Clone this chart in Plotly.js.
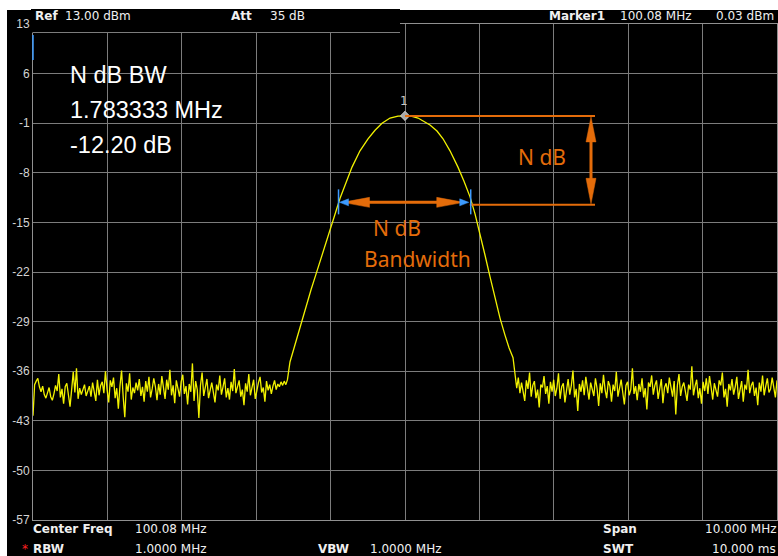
<!DOCTYPE html>
<html>
<head>
<meta charset="utf-8">
<script src="https://cdn.plot.ly/plotly-3.0.1.min.js"></script>
<style>
html,body{margin:0;padding:0;background:#ffffff;width:778px;height:556px;overflow:hidden;}
#bg{position:absolute;left:7px;top:10px;width:771px;height:546px;background:#000000;}
#chart{position:absolute;left:0;top:0;width:778px;height:556px;}
</style>
</head>
<body>
<div id="bg"></div>
<div id="chart"></div>
<script>
// ---------------- data ----------------
const centerFreq = 100.08;   // MHz
const spanMHz = 10;
const refLevel = 13;
const yTickVals = [-57, -50, -43, -36, -29, -22, -15, -8, -1, 6, 13];

const noiseLeftStart = 95.08, noiseLeftStop = 98.50;
const noiseLeft = [-42.3,-37.9,-37.4,-37.0,-38.2,-38.9,-38.1,-39.3,-39.8,-39.0,-38.3,-39.6,-40.1,-39.2,-38.0,-38.8,-36.4,-39.7,-38.5,-40.6,-38.2,-37.7,-39.4,-41.0,-38.6,-36.1,-39.0,-35.6,-39.9,-38.4,-39.3,-38.7,-37.9,-39.5,-38.8,-38.1,-39.6,-37.6,-38.9,-40.2,-37.2,-39.4,-38.0,-37.5,-39.1,-36.0,-38.6,-40.4,-37.3,-38.2,-36.9,-39.8,-38.4,-41.3,-38.1,-35.9,-39.6,-42.5,-37.7,-38.9,-36.3,-40.0,-38.3,-39.1,-37.6,-38.7,-37.1,-39.5,-38.2,-40.3,-37.4,-38.9,-36.8,-39.7,-38.5,-37.0,-38.2,-40.1,-37.8,-39.3,-36.7,-38.4,-39.9,-37.2,-38.6,-35.8,-39.4,-38.0,-40.5,-37.3,-38.8,-39.6,-37.5,-36.5,-39.2,-38.1,-40.7,-37.8,-38.9,-34.9,-40.2,-37.4,-38.6,-42.6,-38.0,-36.2,-39.5,-38.3,-37.1,-39.8,-38.5,-37.6,-39.0,-40.4,-37.9,-38.7,-36.6,-39.3,-38.2,-37.0,-39.7,-38.4,-40.0,-37.5,-38.8,-35.7,-39.1,-38.0,-37.3,-39.6,-38.6,-40.8,-37.7,-38.9,-36.4,-39.4,-38.1,-37.2,-39.9,-38.5,-37.6,-36.8,-39.0,-38.3,-40.3,-37.4,-38.7,-37.9,-39.2,-38.1,-37.3,-38.6,-37.8,-38.2,-37.5,-38.0,-37.4,-37.9,-37.2];

const signalFreq  = [98.534,98.588,98.642,98.696,98.749,98.817,98.884,98.951,99.018,99.085,99.153,99.207,99.274,99.368,99.475,99.583,99.677,99.771,99.879,99.986,100.08,100.174,100.255,100.335,100.416,100.51,100.591,100.685,100.792,100.873,100.954,101.021,101.088,101.155,101.223,101.29,101.357,101.424,101.478,101.532];
const signalLevel = [-34.7,-32.7,-30.75,-28.8,-26.7,-24.5,-22.3,-20.0,-17.8,-15.5,-13.4,-11.6,-9.7,-7.2,-4.9,-3.2,-2.0,-1.0,-0.27,0.0,0.03,-0.05,-0.27,-0.7,-1.25,-2.1,-3.2,-4.9,-7.2,-9.2,-11.4,-13.8,-16.6,-19.6,-22.7,-25.7,-28.5,-30.9,-32.7,-34.1];

const noiseRightStart = 101.56, noiseRightStop = 105.08;
const noiseRight = [-37.0,-38.4,-36.9,-39.1,-37.6,-38.8,-40.2,-37.3,-38.5,-36.2,-39.6,-38.0,-37.4,-39.8,-38.6,-41.1,-37.9,-38.3,-36.7,-39.2,-38.1,-40.6,-37.5,-38.9,-37.2,-39.5,-38.4,-36.3,-39.9,-38.2,-37.7,-40.4,-38.6,-37.1,-39.3,-38.0,-35.9,-39.7,-38.5,-41.6,-37.8,-38.9,-37.3,-39.4,-36.8,-38.2,-40.0,-37.6,-38.7,-39.5,-37.0,-38.4,-40.9,-37.7,-39.1,-36.5,-38.6,-39.8,-37.4,-38.1,-40.3,-37.9,-38.8,-36.1,-39.6,-38.3,-37.2,-39.0,-40.7,-38.0,-37.5,-39.4,-38.6,-35.6,-39.2,-38.1,-40.1,-37.8,-38.9,-37.0,-39.7,-38.4,-41.4,-37.6,-38.2,-36.6,-39.3,-38.0,-37.3,-39.9,-38.7,-37.1,-40.5,-38.3,-37.7,-39.1,-36.9,-38.5,-39.6,-37.4,-42.1,-38.0,-36.4,-39.5,-38.2,-37.6,-39.0,-40.2,-37.9,-38.6,-35.3,-39.4,-38.1,-37.2,-39.8,-38.4,-40.6,-37.5,-38.8,-37.0,-39.2,-36.7,-38.3,-40.0,-37.7,-38.9,-39.6,-37.3,-38.0,-36.2,-39.7,-38.5,-41.0,-37.8,-38.7,-37.1,-39.3,-38.2,-36.8,-39.9,-38.4,-37.4,-40.3,-37.9,-38.6,-35.8,-39.1,-38.0,-37.5,-39.5,-38.3,-40.8,-37.6,-38.9,-36.6,-39.4,-38.1,-37.0,-39.0,-38.5,-36.9,-38.2,-39.7,-37.3];

const markerFreq = 100.08, markerLevel = 0.03;
const ndbLeftFreq = 99.20, ndbRightFreq = 100.95, ndbLevel = -12.17;

// ---------------- build ----------------
function sweep(a, b, n){ const out=[]; for(let i=0;i<n;i++) out.push(a + (b-a)*i/(n-1)); return out; }
const xs = sweep(noiseLeftStart, noiseLeftStop, noiseLeft.length)
  .concat(signalFreq)
  .concat(sweep(noiseRightStart, noiseRightStop, noiseRight.length));
const ys = noiseLeft.concat(signalLevel).concat(noiseRight);

const xMin = centerFreq - spanMHz/2, xMax = centerFreq + spanMHz/2;
const yMin = -57, yMax = refLevel;

// pixel geometry helpers (plot area)
const PL = 33, PR = 777, PT = 24, PB = 520;
const px = x => (x - PL) / (PR - PL);          // pixel x -> paper
const py = y => (PB - y) / (PB - PT);          // pixel y -> paper
const fx = f => PL + (f - xMin) / (xMax - xMin) * (PR - PL);   // data -> pixel
const vy = v => PT + (yMax - v) / (yMax - yMin) * (PB - PT);

const orange = '#e46c0a';
const blue = '#3d9bff';
const grid = '#7c7c7c';

const shapes = [];
function pline(x0,y0,x1,y1,color,w){ shapes.push({type:'line',xref:'paper',yref:'paper',x0:px(x0),y0:py(y0),x1:px(x1),y1:py(y1),line:{color:color,width:w},layer:'above'}); }
function ptri(pts,color){ let d=''; pts.forEach((p,i)=>{ d += (i?' L ':'M ') + px(p[0]) + ',' + py(p[1]); }); d+=' Z'; shapes.push({type:'path',xref:'paper',yref:'paper',path:d,fillcolor:color,line:{color:color,width:0.5},layer:'above'}); }

// header cover on left half
shapes.push({type:'rect',xref:'paper',yref:'paper',x0:px(31),x1:px(400),y0:py(32.5),y1:py(9),fillcolor:'#000000',line:{width:0},layer:'above'});
pline(33,32.5,400,32.5,grid,1);
pline(33,35,33,60,blue,1.5);

// N dB marker geometry
const xPk = fx(markerFreq), yPk = vy(markerLevel);
const xL = fx(ndbLeftFreq), xR = fx(ndbRightFreq), yN = vy(ndbLevel);
// horizontal reference lines
pline(xPk, yPk, 595, yPk, orange, 2);
pline(xR, yN + 2.5, 595, yN + 2.5, orange, 2);
// vertical double arrow
pline(591, yPk + 20, 591, yN - 20, orange, 3);
ptri([[591, yPk + 1],[586, yPk + 26],[596, yPk + 26]], orange);
ptri([[591, yN + 1.5],[586, yN - 24],[596, yN - 24]], orange);
// horizontal double arrow
pline(xL + 25, yN, xR - 25, yN, orange, 3);
ptri([[xL + 3, yN],[xL + 30, yN - 5],[xL + 30, yN + 5]], orange);
ptri([[xR - 6, yN],[xR - 33, yN - 5],[xR - 33, yN + 5]], orange);
// blue N dB markers
pline(xL - 1, yN - 13, xL - 1, yN + 12, blue, 1.5);
ptri([[xL, yN],[xL + 9, yN - 3.5],[xL + 9, yN + 3.5]], blue);
pline(xR + 1, yN - 13, xR + 1, yN + 12, blue, 1.5);
ptri([[xR - 1, yN],[xR - 10, yN - 3.5],[xR - 10, yN + 3.5]], blue);

const annotations = [];
function txt(x, y, text, size, color, anchor, family){
  annotations.push({xref:'paper',yref:'paper',x:px(x),y:py(y),text:text,showarrow:false,
    xanchor:anchor||'left',yanchor:'middle',borderpad:0,borderwidth:0,
    font:{family:family||'DejaVu Sans, sans-serif',size:size,color:color}});
}
const hw = '#f0f0f0';
// header
txt(35, 16.5, '<b>Ref</b>', 12, hw);
txt(65, 16.5, '13.00 dBm', 12, hw);
txt(231, 16.5, '<b>Att</b>', 12, hw);
txt(270, 16.5, '35 dB', 12, hw);
txt(549, 16.5, '<b>Marker1</b>', 12, hw);
txt(620, 16.5, '100.08 MHz', 12, hw);
txt(774, 16.5, '0.03 dBm', 12, hw, 'right');
// footer
txt(33, 529, '<b>Center Freq</b>', 12, hw);
txt(135, 529, '100.08 MHz', 12, hw);
txt(22, 549, '*', 12, '#ff2020');
txt(33, 549, '<b>RBW</b>', 12, hw);
txt(135, 549, '1.0000 MHz', 12, hw);
txt(318, 549, '<b>VBW</b>', 12, hw);
txt(370, 549, '1.0000 MHz', 12, hw);
txt(603, 529, '<b>Span</b>', 12, hw);
txt(776, 529, '10.000 MHz', 12, hw, 'right');
txt(603, 549, '<b>SWT</b>', 12, hw);
txt(776, 549, '10.000 ms', 12, hw, 'right');
// measurement readout
txt(70, 74.5, 'N dB BW', 23.5, '#ffffff', 'left', 'Liberation Sans, Arial, sans-serif');
txt(70, 109.5, '1.783333 MHz', 23.5, '#ffffff', 'left', 'Liberation Sans, Arial, sans-serif');
txt(70, 144.5, '-12.20 dB', 23.5, '#ffffff', 'left', 'Liberation Sans, Arial, sans-serif');
// orange labels
txt(542, 157, 'N dB', 21, orange, 'center', 'Noto Sans, sans-serif');
txt(397, 228, 'N dB', 21, orange, 'center', 'Noto Sans, sans-serif');
txt(417, 259, 'Bandwidth', 21, orange, 'center', 'Noto Sans, sans-serif');
// marker label
annotations.push({x:markerFreq, y:markerLevel, xref:'x', yref:'y', text:'1', showarrow:false, yshift:15, xshift:-1,
  font:{family:'DejaVu Sans, sans-serif', size:12, color:'#c8c8c8'}});

const traces = [
  {x: xs, y: ys, type:'scatter', mode:'lines', line:{color:'#f2f200', width:1.3}, hoverinfo:'skip', cliponaxis:true},
  {x: [markerFreq], y: [markerLevel], type:'scatter', mode:'markers',
   marker:{symbol:'diamond', size:7, color:'#a8a8a8', line:{color:'#d0d0d0', width:1}}, hoverinfo:'skip'}
];

const layout = {
  width: 778, height: 556,
  margin: {l: PL, r: 778 - PR, t: PT, b: 556 - PB, pad: 0},
  paper_bgcolor: 'rgba(0,0,0,0)',
  plot_bgcolor: '#000000',
  showlegend: false,
  xaxis: {range: [xMin, xMax], tick0: xMin, dtick: 1, showgrid: true, gridcolor: grid, gridwidth: 1,
          showticklabels: false, ticks: '', zeroline: false, showline: true, mirror: true,
          linecolor: '#909090', linewidth: 1, fixedrange: true},
  yaxis: {range: [yMin, yMax], tickvals: yTickVals, ticktext: yTickVals.map(String), showgrid: true,
          gridcolor: grid, gridwidth: 1, ticks: '', zeroline: false, showline: true, mirror: true,
          linecolor: '#909090', linewidth: 1, fixedrange: true, ticklabelstandoff: 0,
          tickfont: {family: 'Liberation Sans, Arial, sans-serif', size: 12, color: '#d4d4d4'}},
  shapes: shapes,
  annotations: annotations
};

Plotly.newPlot('chart', traces, layout, {staticPlot: true, displayModeBar: false});
</script>
</body>
</html>
